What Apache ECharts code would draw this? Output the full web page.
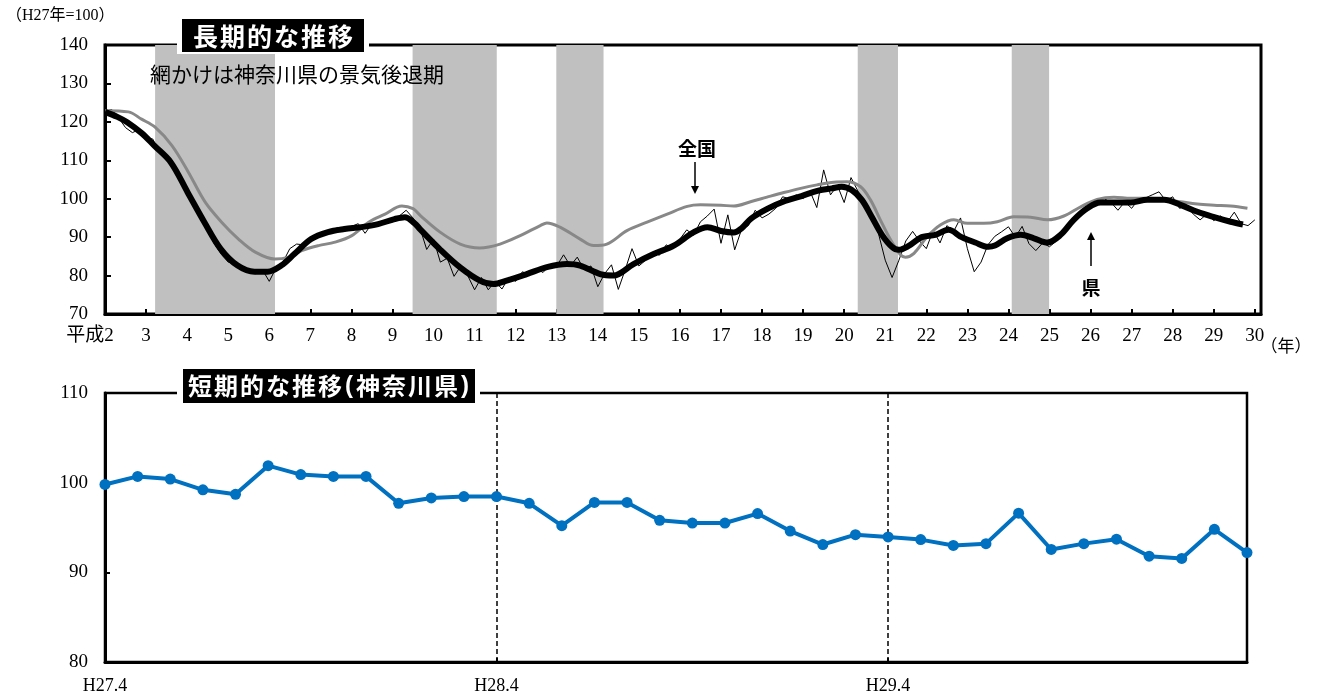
<!DOCTYPE html>
<html><head><meta charset="utf-8">
<script src="https://cdn.jsdelivr.net/npm/echarts@6/dist/echarts.min.js"></script>
<style>html,body{margin:0;padding:0;background:#fff}#c{width:1321px;height:697px}</style>
</head><body><div id="c"></div>
<script>
// ---- Long-term chart data ----
const recessionStart = [3.22, 9.49, 12.99, 20.33, 24.08];
const recessionEnd   = [6.14, 11.54, 14.14, 21.31, 24.99];

const kenTrendYears = [2.0,2.3,2.54,2.9,3.2,3.6,4.01,4.42,4.82,5.23,5.64,5.96,6.29,6.61,7.02,7.43,7.83,8.24,8.65,9.05,9.3,9.54,9.67,10.15,10.64,11.13,11.46,11.78,12.27,12.76,13.25,13.57,14.06,14.38,14.87,15.36,15.85,16.34,16.67,17.0,17.31,17.5,17.74,18.15,18.56,18.96,19.37,19.7,19.94,20.18,20.43,20.67,20.92,21.16,21.33,21.57,21.89,22.22,22.54,22.86,23.19,23.51,23.67,23.97,24.3,24.62,24.95,25.27,25.59,25.92,26.24,26.57,26.98,27.38,27.79,28.19,28.6,29.01,29.41,29.71];
const kenTrendValues = [122.6,121.3,119.9,117.0,113.8,109.5,101.7,93.9,86.9,82.6,81.0,81.0,82.6,85.6,89.5,91.3,92.1,92.6,93.4,94.7,95.2,93.6,92.1,86.9,82.2,78.7,77.8,78.7,80.4,82.2,83.0,82.6,80.4,80.0,83.0,85.6,87.8,91.3,92.6,91.6,91.2,92.3,94.9,97.5,99.4,100.7,102.1,102.7,103.1,102.3,99.7,95.3,90.6,87.5,86.7,87.7,90.0,90.6,91.9,90.0,88.6,87.5,87.8,89.7,90.6,89.7,88.6,90.6,94.5,97.5,99.0,99.0,99.0,99.7,99.7,98.4,96.6,95.2,94.0,93.3];

const nationalYears = [2.0,2.57,2.89,3.22,3.63,4.03,4.44,4.84,5.25,5.66,6.14,6.47,6.79,7.2,7.6,8.01,8.42,8.82,9.23,9.5,9.68,10.16,10.65,11.13,11.62,12.11,12.6,12.76,13.08,13.57,13.9,14.22,14.71,15.2,15.69,16.18,16.5,17.0,17.31,17.72,18.12,18.53,18.94,19.34,19.75,20.07,20.4,20.64,20.88,21.13,21.37,21.49,21.7,22.02,22.35,22.67,23.0,23.4,23.73,24.13,24.54,24.95,25.35,25.76,26.16,26.57,26.98,27.38,27.79,28.19,28.6,29.01,29.41,29.82];
const nationalValues = [122.9,122.6,120.7,118.6,113.8,106.9,99.1,93.9,89.5,86.1,84.3,84.8,86.5,87.8,88.7,90.4,93.9,96.0,98.1,97.4,95.6,91.3,88.2,87.2,88.2,90.4,93.0,93.7,92.6,89.5,87.8,88.2,91.7,93.9,96.0,98.0,98.4,98.3,98.1,99.2,100.4,101.6,102.7,103.6,104.3,104.4,103.1,99.7,94.5,89.3,85.4,84.8,85.8,90.1,93.2,94.5,93.6,93.6,94.0,95.3,95.2,94.5,95.5,97.9,99.8,100.4,100.1,100.1,99.8,99.2,98.6,98.3,98.1,97.5];

// raw prefectural index, every two months from 平成2 start
const kenRawStart = 2;
const kenRawPerYear = 6;
const kenRawValues = [
122.8,123.2,121.0,118.5,117.2,118.0,
116.0,115.5,111.8,110.0,108.8,104.5,
102.5,98.0,96.2,91.5,88.2,85.5,
83.5,83.0,82.5,81.0,80.5,81.5,
78.5,82.0,83.5,87.0,88.2,88.0,
89.0,90.8,90.5,91.8,92.5,91.5,
92.8,93.5,91.0,93.5,93.0,94.5,
94.0,95.5,97.0,95.0,92.5,86.8,
89.5,83.5,84.5,79.8,82.5,80.0,
76.3,79.5,76.3,78.5,76.5,79.5,
78.5,81.0,80.0,81.8,80.8,82.8,
82.5,85.4,82.5,84.8,81.5,82.5,
77.1,80.5,82.8,76.4,81.5,87.0,
82.5,84.0,86.0,85.3,88.0,87.0,
89.5,91.9,90.5,94.0,95.5,97.3,
88.4,95.8,86.7,92.0,93.0,97.0,
95.0,96.0,97.5,100.5,100.0,101.0,
100.0,102.0,97.7,107.5,101.0,103.5,
99.0,105.5,102.0,98.0,95.0,91.0,
84.0,79.5,84.0,89.0,91.5,89.0,
87.0,91.8,88.5,93.0,91.5,95.0,
87.0,81.0,83.5,88.0,90.2,91.4,
92.7,90.0,92.8,88.3,86.5,88.5,
87.5,89.0,91.5,93.0,96.0,97.0,
98.0,99.5,100.0,99.0,97.0,99.2,
97.5,99.8,100.2,101.0,101.8,99.5,
100.5,97.5,98.2,96.0,94.5,96.0,
94.3,95.5,94.0,96.5,93.5,93.0,
94.5];

// ---- Short-term chart data ----
const shortMonths = ['H27.4','H27.5','H27.6','H27.7','H27.8','H27.9','H27.10','H27.11','H27.12','H28.1','H28.2','H28.3',
  'H28.4','H28.5','H28.6','H28.7','H28.8','H28.9','H28.10','H28.11','H28.12','H29.1','H29.2','H29.3',
  'H29.4','H29.5','H29.6','H29.7','H29.8','H29.9','H29.10','H29.11','H29.12','H30.1','H30.2','H30.3'];
const shortValues = [99.8,100.7,100.4,99.2,98.7,101.9,100.9,100.7,100.7,97.7,98.3,98.45,
  98.45,97.7,95.2,97.8,97.8,95.8,95.5,95.5,96.55,94.6,93.1,94.2,
  93.95,93.65,93.0,93.2,96.6,92.55,93.2,93.7,91.8,91.55,94.8,92.2];
const shortGuideIdx = [12, 24];

const titleLong = '長期的な推移';
const titleShort = '短期的な推移(神奈川県)';

// ---- build ----
const zip = (a, b) => a.map((v, i) => [v, b[i]]);
const kenRaw = kenRawValues.map((v, i) => [kenRawStart + i / kenRawPerYear, v]);
const bands = recessionStart.map((s, i) => [s, recessionEnd[i]]);
const spaced = s => Array.from(s).map(ch => (ch === '(' || ch === ')' ? '{p|' : '{c|') + ch + '}').join('');

const SERIF = "'Liberation Serif','Noto Sans CJK JP',serif";
const SANS = "'Noto Sans CJK JP',sans-serif";
const makeRich = fs => ({
  c: {fontSize: fs, fontWeight: 'bold', fontFamily: SANS, fill: '#fff', color: '#fff', padding: [0, 1, 0, 1]},
  p: {fontSize: fs, fontWeight: 'bold', fontFamily: "'Liberation Sans',sans-serif", fill: '#fff', color: '#fff', padding: [0, 2, 0, 2]}
});

const chart = echarts.init(document.getElementById('c'));
chart.setOption({
  animation: false,
  backgroundColor: '#fff',
  grid: [
    {left: 105, right: 60, top: 45, height: 269, show: true, borderColor: '#000', borderWidth: 3, backgroundColor: 'transparent'},
    {left: 105, right: 74, top: 393, height: 269, show: true, borderColor: '#000', borderWidth: 2.5, backgroundColor: 'transparent'}
  ],
  xAxis: [
    {gridIndex: 0, type: 'value', min: 2, max: 30.15, interval: 1,
     axisLine: {lineStyle: {color: '#000', width: 3}},
     axisTick: {inside: true, length: 5, lineStyle: {color: '#000', width: 2}},
     splitLine: {show: false},
     axisLabel: {margin: 13, color: '#000', fontSize: 19, fontFamily: SERIF, showMaxLabel: false,
       formatter: v => v === 2 ? '{a|平成2}' : (Number.isInteger(v) ? String(v) : ''),
       rich: {a: {fontSize: 19, fontFamily: SERIF, color: '#000', padding: [0, 30, 0, 0]}}}},
    {gridIndex: 1, type: 'category', data: shortMonths, boundaryGap: false,
     axisLine: {lineStyle: {color: '#000', width: 3}},
     axisTick: {inside: true, length: 4, interval: 11, lineStyle: {color: '#000', width: 2}},
     splitLine: {show: true, interval: (i) => shortGuideIdx.indexOf(i) >= 0,
       lineStyle: {color: '#000', width: 1.5, type: [5, 3]}},
     axisLabel: {interval: 11, margin: 15, color: '#000', fontSize: 18, fontFamily: SERIF}}
  ],
  yAxis: [
    {gridIndex: 0, type: 'value', min: 70, max: 140, interval: 10,
     axisLine: {show: true, lineStyle: {color: '#000', width: 3}},
     axisTick: {show: true, inside: true, length: 6, lineStyle: {color: '#000', width: 2}},
     splitLine: {show: false},
     axisLabel: {margin: 17, color: '#000', fontSize: 19, fontFamily: SERIF}},
    {gridIndex: 1, type: 'value', min: 80, max: 110, interval: 10,
     axisLine: {show: true, lineStyle: {color: '#000', width: 3}},
     axisTick: {show: true, inside: true, length: 5, lineStyle: {color: '#000', width: 2}},
     splitLine: {show: false},
     axisLabel: {margin: 17, color: '#000', fontSize: 19, fontFamily: SERIF}}
  ],
  series: [
    {type: 'custom', xAxisIndex: 0, yAxisIndex: 0, z: 1, silent: true,
     data: bands, encode: {x: [0, 1]},
     renderItem: (params, api) => {
       const a = api.coord([api.value(0), 140]);
       const b = api.coord([api.value(1), 70]);
       const cs = params.coordSys;
       return {type: 'rect', shape: {x: a[0], y: cs.y, width: b[0] - a[0], height: cs.height},
               style: {fill: '#C0C0C0'}};
     }},
    {type: 'line', xAxisIndex: 0, yAxisIndex: 0, z: 3, data: kenRaw, showSymbol: false, symbol: 'none',
     lineStyle: {color: '#000', width: 1}},
    {type: 'line', xAxisIndex: 0, yAxisIndex: 0, z: 4, data: zip(nationalYears, nationalValues), smooth: 0.35,
     showSymbol: false, symbol: 'none', lineStyle: {color: '#888', width: 3}},
    {type: 'line', xAxisIndex: 0, yAxisIndex: 0, z: 5, data: zip(kenTrendYears, kenTrendValues), smooth: 0.35,
     showSymbol: false, symbol: 'none', lineStyle: {color: '#000', width: 6}},
    {type: 'line', xAxisIndex: 1, yAxisIndex: 1, z: 5, data: shortValues,
     symbol: 'circle', symbolSize: 11, itemStyle: {color: '#0070C0'},
     lineStyle: {color: '#0070C0', width: 4}}
  ],
  graphic: [
    {type: 'text', z: 50, left: 6, top: 8, style: {text: '（H27年=100）', fontSize: 16, fontFamily: SERIF, fill: '#000'}},
    {type: 'rect', z: 100, shape: {x: 177, y: 36, width: 192, height: 18}, style: {fill: '#fff'}},
    {type: 'rect', z: 101, shape: {x: 182, y: 19, width: 182, height: 33}, style: {fill: '#000'}},
    {type: 'text', z: 102, x: 273, y: 36, style: {text: spaced(titleLong), fill: '#fff', rich: makeRich(25), align: 'center', verticalAlign: 'middle'}},
    {type: 'text', z: 50, x: 150, y: 74, style: {text: '網かけは神奈川県の景気後退期', fontSize: 21, fontFamily: SANS, fill: '#000', align: 'left', verticalAlign: 'middle'}},
    {type: 'text', z: 50, x: 697, y: 149, style: {text: '全国', fontSize: 19, fontWeight: 'bold', fontFamily: SANS, fill: '#000', align: 'center', verticalAlign: 'middle'}},
    {type: 'line', z: 50, shape: {x1: 695, y1: 162, x2: 695, y2: 188}, style: {stroke: '#000', lineWidth: 1.5}},
    {type: 'polygon', z: 50, shape: {points: [[691, 186], [699, 186], [695, 194]]}, style: {fill: '#000'}},
    {type: 'text', z: 50, x: 1091, y: 288, style: {text: '県', fontSize: 19, fontWeight: 'bold', fontFamily: SANS, fill: '#000', align: 'center', verticalAlign: 'middle'}},
    {type: 'line', z: 50, shape: {x1: 1091, y1: 266, x2: 1091, y2: 238}, style: {stroke: '#000', lineWidth: 1.5}},
    {type: 'polygon', z: 50, shape: {points: [[1087, 240], [1095, 240], [1091, 232]]}, style: {fill: '#000'}},
    {type: 'text', z: 50, x: 1286, y: 348, style: {text: '（年）', fontSize: 17, fontFamily: SERIF, fill: '#000', align: 'center', verticalAlign: 'middle'}},
    {type: 'rect', z: 100, shape: {x: 177, y: 384, width: 303, height: 18}, style: {fill: '#fff'}},
    {type: 'rect', z: 101, shape: {x: 183, y: 369, width: 292, height: 34}, style: {fill: '#000'}},
    {type: 'text', z: 102, x: 329, y: 386, style: {text: spaced(titleShort), fill: '#fff', rich: makeRich(24), align: 'center', verticalAlign: 'middle'}}
  ]
});
</script></body></html>
